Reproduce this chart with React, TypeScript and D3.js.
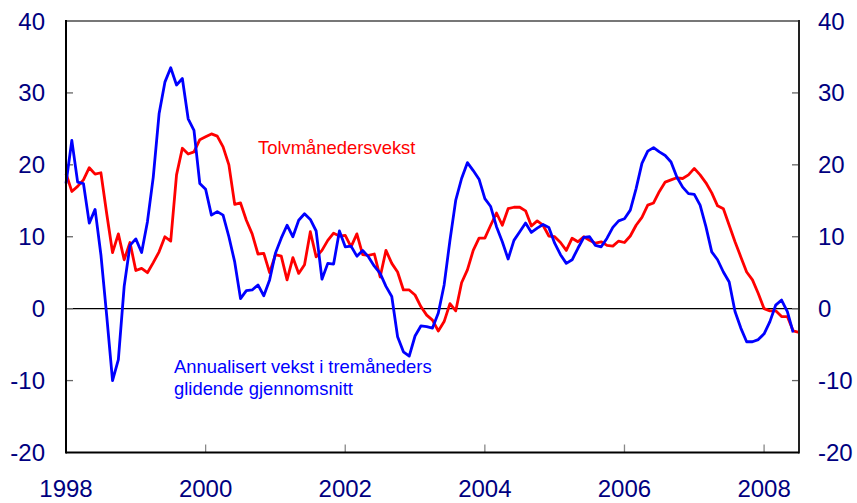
import React from "react";
import * as d3 from "d3";

const W = 857;
const H = 503;

// Monthly observations from January 1998
const START_YEAR = 1998;
const yearTicks = [1998, 2000, 2002, 2004, 2006, 2008];
const yTicks = [-20, -10, 0, 10, 20, 30, 40];

const tolvmaanedersvekst = [
  18.8, 16.3, 17.0, 17.9, 19.6, 18.7, 18.9, 13.2, 7.8, 10.4, 6.8, 9.2,
  5.3, 5.6, 5.0, 6.4, 7.9, 10.0, 9.4, 18.6, 22.3, 21.5, 21.8, 23.5,
  23.9, 24.3, 24.0, 22.5, 20.0, 14.5, 14.7, 12.3, 10.4, 7.6, 7.7, 5.0,
  7.5, 7.3, 4.0, 7.1, 4.9, 6.1, 10.7, 7.2, 8.1, 9.5, 10.5, 10.1,
  10.2, 8.6, 10.4, 7.5, 7.4, 7.6, 4.4, 8.1, 6.3, 5.1, 2.6, 2.6,
  1.9, 0.3, -0.9, -1.6, -3.1, -1.8, 0.7, -0.3, 3.6, 5.4, 8.1, 9.8,
  9.8, 11.6, 13.3, 11.6, 13.9, 14.1, 14.1, 13.6, 11.5, 12.2, 11.6, 10.1,
  10.0, 9.2, 8.1, 9.8, 9.3, 10.0, 9.5, 9.1, 9.3, 8.8, 8.7, 9.4,
  9.2, 10.1, 11.6, 12.7, 14.4, 14.7, 16.3, 17.6, 17.9, 18.2, 18.1, 18.6,
  19.5, 18.6, 17.5, 16.1, 14.3, 13.9, 11.6, 9.3, 7.2, 5.1, 4.0, 2.1,
  0.0, -0.3, -0.3, -1.1, -1.1, -3.1, -3.3,
];

const annualisertVekst = [
  17.4, 23.4, 17.6, 17.4, 11.9, 13.8, 7.5, -1.0, -10.0, -7.1, 3.1, 8.8,
  9.7, 7.8, 12.1, 18.3, 27.1, 31.5, 33.5, 31.1, 32.0, 26.4, 24.8, 17.4,
  16.6, 13.0, 13.5, 13.0, 10.0, 6.5, 1.4, 2.5, 2.6, 3.3, 1.8, 4.0,
  7.7, 9.8, 11.6, 10.0, 12.3, 13.2, 12.4, 10.8, 4.1, 6.3, 6.2, 10.8,
  8.6, 8.7, 7.3, 8.1, 7.2, 5.9, 4.9, 3.1, 1.7, -3.9, -6.0, -6.6,
  -3.8, -2.4, -2.5, -2.7, -0.6, 3.3, 9.5, 15.1, 18.1, 20.3, 19.2, 18.0,
  15.3, 14.2, 11.4, 9.3, 6.9, 9.5, 10.7, 11.9, 10.6, 11.2, 11.7, 11.3,
  9.1, 7.5, 6.3, 6.8, 8.4, 9.9, 10.0, 8.8, 8.6, 9.8, 11.3, 12.2,
  12.5, 13.7, 16.7, 20.2, 21.9, 22.4, 21.8, 21.3, 20.4, 18.3, 16.9, 16.0,
  15.9, 14.4, 11.4, 7.9, 6.8, 5.1, 3.7, -0.4, -2.7, -4.6, -4.6, -4.3,
  -3.5, -1.8, 0.5, 1.2, -0.4, -3.3,
];

const redLabel = "Tolvmånedersvekst";
const blueLabel = ["Annualisert vekst i tremåneders", "glidende gjennomsnitt"];

const LEFT = 66;
const RIGHT = 799;
const TOP = 21;
const BOTTOM = 452.5;
const FONT = "'Liberation Sans', Arial, sans-serif";
const NAVY = "#000080";

export default function App() {
  const x = d3.scaleLinear().domain([0, 126]).range([LEFT, RIGHT]);
  const y = d3.scaleLinear().domain([-20, 40]).range([BOTTOM, TOP]);
  const line = d3
    .line<number>()
    .x((_, i) => x(i))
    .y((d) => y(d));

  const monthOf = (yr: number) => (yr - START_YEAR) * 12;

  return (
    <svg
      width={W}
      height={H}
      style={{ position: "absolute", left: 0, top: 0, background: "#fff" }}
    >
      {/* zero line */}
      <line x1={LEFT} x2={RIGHT} y1={y(0)} y2={y(0)} stroke="#000" strokeWidth={1.3} />

      {/* y ticks */}
      {yTicks.slice(1, -1).map((t) => (
        <g key={"yt" + t}>
          <line x1={LEFT} x2={LEFT + 7} y1={y(t)} y2={y(t)} stroke="#666" strokeWidth={1.3} />
          <line x1={RIGHT - 7} x2={RIGHT} y1={y(t)} y2={y(t)} stroke="#666" strokeWidth={1.3} />
        </g>
      ))}
      {/* x ticks */}
      {yearTicks.slice(1).map((yr) => (
        <line
          key={"xt" + yr}
          x1={x(monthOf(yr))}
          x2={x(monthOf(yr))}
          y1={BOTTOM}
          y2={BOTTOM - 8}
          stroke="#888"
          strokeWidth={1.3}
        />
      ))}

      {/* series */}
      <path d={line(tolvmaanedersvekst) || ""} fill="none" stroke="#ff0000" strokeWidth={2.8} strokeLinejoin="round" />
      <path d={line(annualisertVekst) || ""} fill="none" stroke="#0000ff" strokeWidth={2.8} strokeLinejoin="round" />

      {/* frame */}
      <line x1={LEFT} x2={RIGHT} y1={TOP} y2={TOP} stroke="#777" strokeWidth={2} />
      <line x1={LEFT} x2={LEFT} y1={TOP - 1} y2={BOTTOM + 1} stroke="#000" strokeWidth={2} />
      <line x1={RIGHT} x2={RIGHT} y1={TOP - 1} y2={BOTTOM + 1} stroke="#222" strokeWidth={2} />
      <line x1={LEFT} x2={RIGHT} y1={BOTTOM} y2={BOTTOM} stroke="#000" strokeWidth={2} />

      {/* y labels */}
      {yTicks.map((t) => (
        <g key={"yl" + t} fontFamily={FONT} fontSize={24} fill={NAVY}>
          <text x={45} y={y(t) + 8.5} textAnchor="end">
            {t}
          </text>
          <text x={818} y={y(t) + 8.5} textAnchor="start">
            {t}
          </text>
        </g>
      ))}

      {/* x labels */}
      {yearTicks.map((yr) => (
        <text
          key={"xl" + yr}
          x={x(monthOf(yr))}
          y={497}
          textAnchor="middle"
          fontFamily={FONT}
          fontSize={24}
          fill={NAVY}
        >
          {yr}
        </text>
      ))}

      {/* series labels */}
      <text x={258} y={154} fontFamily={FONT} fontSize={18.4} fill="#ff0000">
        {redLabel}
      </text>
      <text fontFamily={FONT} fontSize={18.4} fill="#0000ff">
        <tspan x={174} y={373}>{blueLabel[0]}</tspan>
        <tspan x={174} y={395}>{blueLabel[1]}</tspan>
      </text>
    </svg>
  );
}
